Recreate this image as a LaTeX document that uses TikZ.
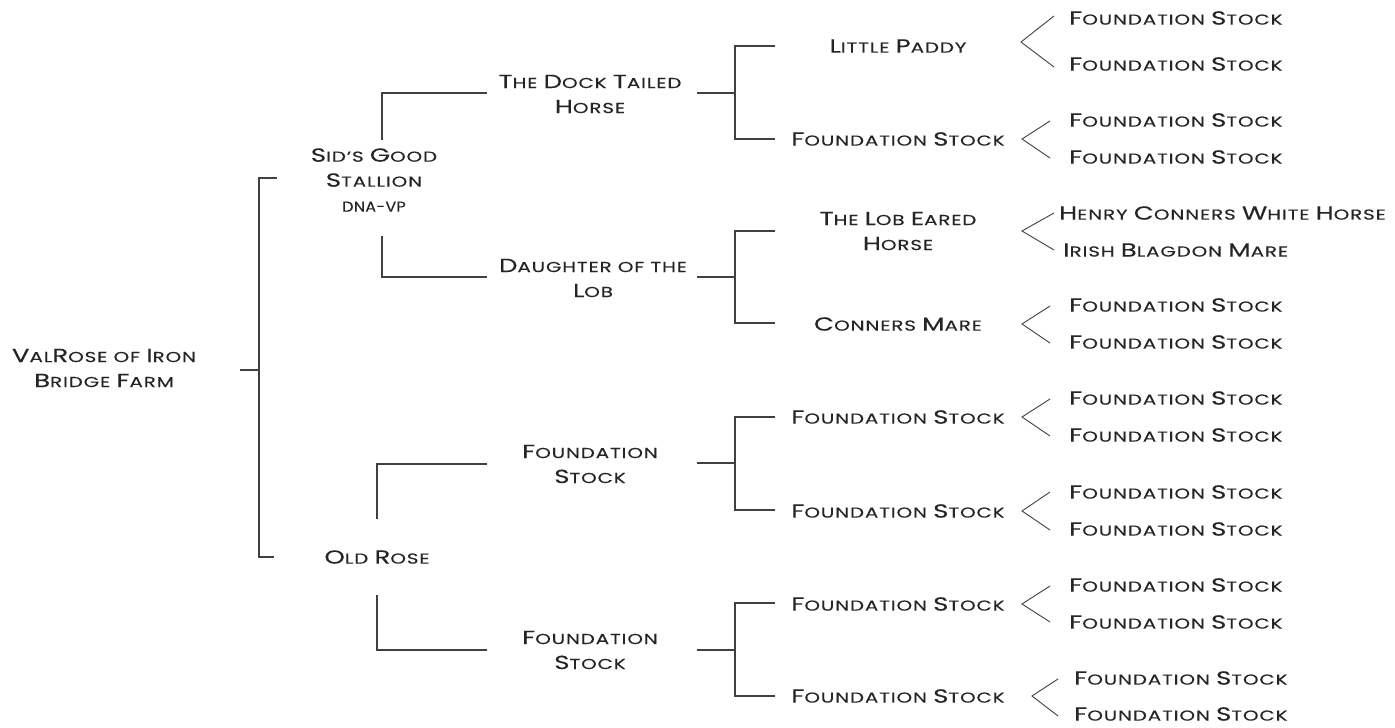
\documentclass[tikz,border=0pt]{standalone}
\usepackage{fontspec}
\setmainfont[LetterSpace=6,FakeStretch=1.37,FakeBold=0.12]{Poppins}
\newfontfamily\narrowf[LetterSpace=2,FakeStretch=1.1,FakeBold=0.12]{Poppins}
\usetikzlibrary{calc}
\newcommand\Bg{\fontsize{19}{25}\selectfont}
\definecolor{txt}{HTML}{252525}
\definecolor{ln}{HTML}{404040}
\begin{document}
\begin{tikzpicture}[x=1pt,y=-1pt,
  lbl/.style={inner sep=0pt,align=center,text=txt,font=\fontsize{14.5}{25}\selectfont},
  leaf/.style={lbl,anchor=west},
  br/.style={draw=ln,line width=1.3pt},
  chev/.style={draw=ln,line width=0.9pt}]
\useasboundingbox (0,0) rectangle (1395,728);
% generation 0
\node[lbl] (root) at (104,368) {{\Bg V}AL{\Bg R}OSE OF {\Bg I}RON\\{\Bg B}RIDGE {\Bg F}ARM};
% generation 1
\node[lbl] (sid) at (374,180) {{\Bg S}ID'S {\Bg G}OOD\\{\Bg S}TALLION\\{\narrowf DNA-VP}};
\node[lbl] (old) at (377,557) {{\Bg O}LD {\Bg R}OSE};
% generation 2
\node[lbl] (dock) at (590,94) {{\Bg T}HE {\Bg D}OCK {\Bg T}AILED\\{\Bg H}ORSE};
\node[lbl] (daug) at (593,278) {{\Bg D}AUGHTER OF THE\\{\Bg L}OB};
\node[lbl] (fa) at (590,464) {{\Bg F}OUNDATION\\{\Bg S}TOCK};
\node[lbl] (fb) at (590,650) {{\Bg F}OUNDATION\\{\Bg S}TOCK};
% generation 3
\node[lbl] (paddy) at (898,46) {{\Bg L}ITTLE {\Bg P}ADDY};
\node[lbl] (g3b) at (898,139) {{\Bg F}OUNDATION {\Bg S}TOCK};
\node[lbl] (lob) at (898,231) {{\Bg T}HE {\Bg L}OB {\Bg E}ARED\\{\Bg H}ORSE};
\node[lbl] (conn) at (898,324) {{\Bg C}ONNERS {\Bg M}ARE};
\node[lbl] (g3e) at (898,417) {{\Bg F}OUNDATION {\Bg S}TOCK};
\node[lbl] (g3f) at (898,511) {{\Bg F}OUNDATION {\Bg S}TOCK};
\node[lbl] (g3g) at (898,604) {{\Bg F}OUNDATION {\Bg S}TOCK};
\node[lbl] (g3h) at (898,696) {{\Bg F}OUNDATION {\Bg S}TOCK};
% generation 4
\node[leaf] (l1) at (1069,18) {{\Bg F}OUNDATION {\Bg S}TOCK};
\node[leaf] (l2) at (1069,64) {{\Bg F}OUNDATION {\Bg S}TOCK};
\node[leaf] (l3) at (1069,120) {{\Bg F}OUNDATION {\Bg S}TOCK};
\node[leaf] (l4) at (1069,157) {{\Bg F}OUNDATION {\Bg S}TOCK};
\node[leaf] (l5) at (1059,213) {{\Bg H}ENRY {\Bg C}ONNERS {\Bg W}HITE {\Bg H}ORSE};
\node[leaf] (l6) at (1063,250) {{\Bg I}RISH {\Bg B}LAGDON {\Bg M}ARE};
\node[leaf] (l7) at (1069,305) {{\Bg F}OUNDATION {\Bg S}TOCK};
\node[leaf] (l8) at (1069,342) {{\Bg F}OUNDATION {\Bg S}TOCK};
\node[leaf] (l9) at (1069,398) {{\Bg F}OUNDATION {\Bg S}TOCK};
\node[leaf] (l10) at (1069,435) {{\Bg F}OUNDATION {\Bg S}TOCK};
\node[leaf] (l11) at (1069,492) {{\Bg F}OUNDATION {\Bg S}TOCK};
\node[leaf] (l12) at (1069,529) {{\Bg F}OUNDATION {\Bg S}TOCK};
\node[leaf] (l13) at (1069,585) {{\Bg F}OUNDATION {\Bg S}TOCK};
\node[leaf] (l14) at (1069,622) {{\Bg F}OUNDATION {\Bg S}TOCK};
\node[leaf] (l15) at (1074,678) {{\Bg F}OUNDATION {\Bg S}TOCK};
\node[leaf] (l16) at (1074,714) {{\Bg F}OUNDATION {\Bg S}TOCK};
% bracket coordinates
\coordinate (r0) at (240,370); \coordinate (r1) at (259,370);
\coordinate (rt) at (259,178); \coordinate (rb) at (259,557);
\coordinate (st) at (382,140); \coordinate (sb) at (382,236);
\coordinate (ot) at (377,519); \coordinate (ob) at (377,595);
\draw[br] (r0) -- (r1);
\draw[br] (277,178) -- (rt) -- (rb) -- (274,557);
\draw[br] (st) |- (487,93);
\draw[br] (sb) |- (487,277);
\draw[br] (ot) |- (487,464);
\draw[br] (ob) |- (487,650);
% generation 2 -> 3 brackets
\foreach \y/\t/\b in {93/46/139, 277/231/323, 463/417/510, 650/603/696}{
  \draw[br] (697,\y) -- (735,\y);
  \draw[br] (775,\t) -- (735,\t) -- (735,\b) -- (775,\b);
}
% chevrons
\coordinate (c1) at (1021,42);
\coordinate (c2) at (1022,139);
\coordinate (c3) at (1022,231);
\coordinate (c4) at (1022,324);
\coordinate (c5) at (1022,417);
\coordinate (c6) at (1022,511);
\coordinate (c7) at (1022,604);
\coordinate (c8) at (1032,696);
\draw[chev] (1054,16) -- (c1) -- (1054,67);
\draw[chev] (1050,121) -- (c2) -- (1050,158);
\draw[chev] (1054,213) -- (c3) -- (1054,250);
\draw[chev] (1050,306) -- (c4) -- (1050,343);
\draw[chev] (1050,399) -- (c5) -- (1050,436);
\draw[chev] (1050,492) -- (c6) -- (1050,530);
\draw[chev] (1050,586) -- (c7) -- (1050,622);
\draw[chev] (1058,679) -- (c8) -- (1058,716);
\end{tikzpicture}
\end{document}
